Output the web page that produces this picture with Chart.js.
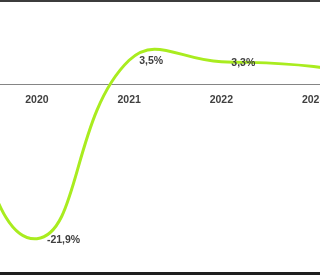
<!DOCTYPE html>
<html>
<head>
<meta charset="utf-8">
<script src="https://cdn.jsdelivr.net/npm/chart.js@4"></script>
<style>
  html, body { margin: 0; padding: 0; background: #fff; }
  body { width: 320px; height: 275px; overflow: hidden; position: relative; }
  #frame-top { position: absolute; left: 0; top: 0; width: 320px; height: 2px; background: #3c3c3c; }
  #frame-bottom { position: absolute; left: 0; top: 272px; width: 320px; height: 3px; background: #1e1e1e; }
  #wrap { position: absolute; left: -76.5px; top: -1px; width: 502.5px; height: 270px; }
</style>
</head>
<body>
<div id="wrap"><canvas id="chart"></canvas></div>
<div id="frame-top"></div>
<div id="frame-bottom"></div>
<script>
// years on the x axis (2019 and 2024 sit outside the visible crop)
const years = ["2019", "2020", "2021", "2022", "2023", "2024"];
// growth in percent
const growth = [0.8, -21.9, 3.5, 3.3, 2.6, 0.3];

const fmtPct = (v) => v.toFixed(1).replace(".", ",") + "%";

// small label plugin, draws the value to the right of each point
const valueLabels = {
  id: "valueLabels",
  afterDatasetsDraw(chart) {
    const ctx = chart.ctx;
    const meta = chart.getDatasetMeta(0);
    ctx.save();
    ctx.font = "bold 10.5px 'Liberation Sans', sans-serif";
    ctx.fillStyle = "#404040";
    ctx.textAlign = "left";
    ctx.textBaseline = "middle";
    meta.data.forEach((pt, i) => {
      ctx.fillText(fmtPct(growth[i]), pt.x + 10, pt.y + 1);
    });
    ctx.restore();
  },
};

const ctx = document.getElementById("chart").getContext("2d");

new Chart(ctx, {
  type: "line",
  data: {
    labels: years,
    datasets: [
      {
        data: growth,
        borderColor: "#a9ec1f",
        borderWidth: 3,
        tension: 0.45,
        pointRadius: 0,
        fill: false,
      },
    ],
  },
  options: {
    responsive: true,
    maintainAspectRatio: false,
    animation: false,
    clip: false,
    layout: { padding: 0 },
    plugins: {
      legend: { display: false },
      tooltip: { enabled: false },
    },
    scales: {
      x: {
        position: { y: 0 },
        offset: false,
        grid: { display: false, drawTicks: false },
        border: { display: true, color: "#858585", width: 1 },
        ticks: {
          color: "#404040",
          padding: 9,
          maxRotation: 0,
          autoSkip: false,
          font: { family: "'Liberation Sans', sans-serif", size: 10.5, weight: "bold" },
        },
      },
      y: {
        display: false,
        min: -26,
        max: 12,
      },
    },
  },
  plugins: [valueLabels],
});
</script>
</body>
</html>
